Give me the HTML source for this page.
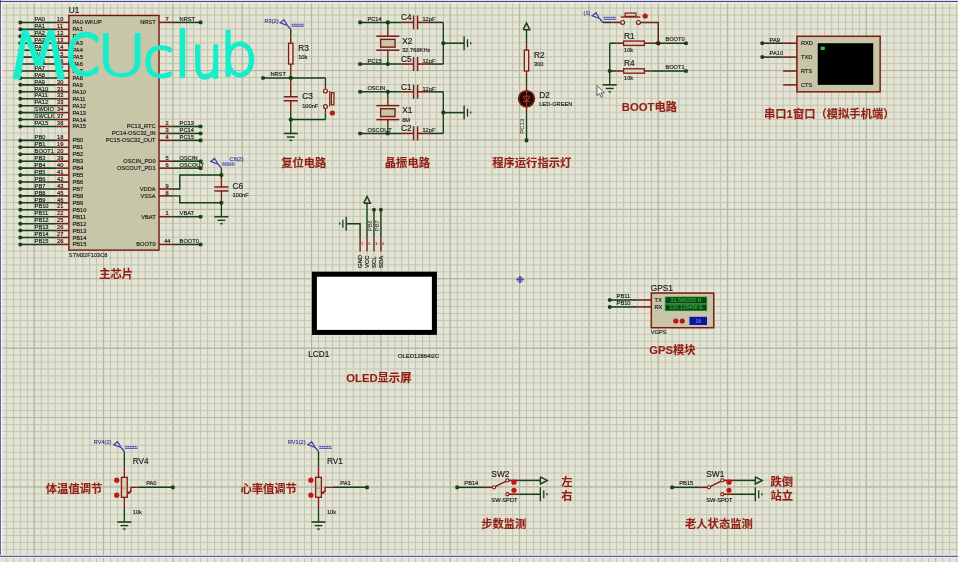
<!DOCTYPE html>
<html lang="zh"><head><meta charset="utf-8"><title>MCUclub schematic</title>
<style>html,body{margin:0;padding:0;background:#e4e4d4;overflow:hidden}body{position:relative;width:958px;height:562px}svg{display:block}.t{font-family:"Liberation Sans","Noto Sans CJK SC",sans-serif}.cn{font-family:"Liberation Sans","Noto Sans CJK SC",sans-serif;letter-spacing:0}.wm{font-family:"DejaVu Sans","Liberation Sans",sans-serif}</style></head><body>
<svg width="958" height="562" viewBox="0 0 958 562">
<defs>
<pattern id="gmin" x="34.2" y="1.2" width="6.934" height="6.939" patternUnits="userSpaceOnUse"><path d="M0.5 0V6.939M0 0.5H6.934" stroke="#c2c3b1" stroke-width="1.15" fill="none"/></pattern>
<pattern id="gmaj" x="34.2" y="1.2" width="69.34" height="69.39" patternUnits="userSpaceOnUse"><path d="M0.5 0V69.39M0 0.5H69.34" stroke="#b1b2a0" stroke-width="1.05" fill="none"/></pattern>
<filter id="soft" x="-2%" y="-2%" width="104%" height="104%"><feGaussianBlur stdDeviation="0.35"/></filter>
</defs>
<rect width="958" height="562" fill="#e4e4d4"/>
<g id="grid" transform="translate(-0.5,-0.5)"><rect x="0" y="0" width="960" height="564" fill="url(#gmin)"/><rect x="0" y="0" width="960" height="564" fill="url(#gmaj)"/></g>
<g id="all" filter="url(#soft)">
<rect x="0" y="0" width="958" height="1.1" fill="#dedeea"/>
<rect x="0" y="2" width="958" height="1.6" fill="#eeeee6" opacity="0.8"/>
<rect x="0.6" y="2" width="1.8" height="554" fill="#f4f4f6"/>
<line x1="0" y1="1.5" x2="958" y2="1.5" stroke="#45458c" stroke-width="1.1" />
<line x1="0.3" y1="0" x2="0.3" y2="556.4" stroke="#45458c" stroke-width="1.0" />
<rect x="0" y="554.8" width="958" height="3.2" fill="#e8e8f4"/>
<line x1="0" y1="556.3" x2="958" y2="556.3" stroke="#3c3c80" stroke-width="1.0" />
<g id="parts" transform="translate(0,0.4)">
<rect x="68.87" y="15.08" width="90.14" height="234.62" fill="#c8c6a8" stroke="#74180f" stroke-width="1.4"/>
<text x="68.87" y="12.6" font-size="8.3" fill="#1c1c1a" stroke="#1c1c1a" stroke-width="0.16" text-anchor="start" font-weight="normal" class="t" >U1</text>
<text x="68.87" y="256.6" font-size="5.7" fill="#1c1c1a" stroke="#1c1c1a" stroke-width="0.16" text-anchor="start" font-weight="normal" class="t" >STM32F103C8</text>
<line x1="20.33" y1="22.02" x2="55.0" y2="22.02" stroke="#153f18" stroke-width="1.55" />
<line x1="55.0" y1="22.02" x2="68.87" y2="22.02" stroke="#7e1a12" stroke-width="1.55" />
<circle cx="20.33" cy="22.02" r="2.0" fill="#153f18"/>
<text x="34.6" y="20.72" font-size="5.7" fill="#1c1c1a" stroke="#1c1c1a" stroke-width="0.16" text-anchor="start" font-weight="normal" class="t" >PA0</text>
<text x="57.0" y="20.72" font-size="5.7" fill="#1c1c1a" stroke="#1c1c1a" stroke-width="0.16" text-anchor="start" font-weight="normal" class="t" >10</text>
<text x="72.47" y="24.02" font-size="5.7" fill="#1c1c1a" stroke="#1c1c1a" stroke-width="0.16" text-anchor="start" font-weight="normal" class="t" >PA0-WKUP</text>
<line x1="20.33" y1="28.96" x2="55.0" y2="28.96" stroke="#153f18" stroke-width="1.55" />
<line x1="55.0" y1="28.96" x2="68.87" y2="28.96" stroke="#7e1a12" stroke-width="1.55" />
<circle cx="20.33" cy="28.96" r="2.0" fill="#153f18"/>
<text x="34.6" y="27.66" font-size="5.7" fill="#1c1c1a" stroke="#1c1c1a" stroke-width="0.16" text-anchor="start" font-weight="normal" class="t" >PA1</text>
<text x="57.0" y="27.66" font-size="5.7" fill="#1c1c1a" stroke="#1c1c1a" stroke-width="0.16" text-anchor="start" font-weight="normal" class="t" >11</text>
<text x="72.47" y="30.96" font-size="5.7" fill="#1c1c1a" stroke="#1c1c1a" stroke-width="0.16" text-anchor="start" font-weight="normal" class="t" >PA1</text>
<line x1="20.33" y1="35.9" x2="55.0" y2="35.9" stroke="#153f18" stroke-width="1.55" />
<line x1="55.0" y1="35.9" x2="68.87" y2="35.9" stroke="#7e1a12" stroke-width="1.55" />
<circle cx="20.33" cy="35.9" r="2.0" fill="#153f18"/>
<text x="34.6" y="34.6" font-size="5.7" fill="#1c1c1a" stroke="#1c1c1a" stroke-width="0.16" text-anchor="start" font-weight="normal" class="t" >PA2</text>
<text x="57.0" y="34.6" font-size="5.7" fill="#1c1c1a" stroke="#1c1c1a" stroke-width="0.16" text-anchor="start" font-weight="normal" class="t" >12</text>
<text x="72.47" y="37.9" font-size="5.7" fill="#1c1c1a" stroke="#1c1c1a" stroke-width="0.16" text-anchor="start" font-weight="normal" class="t" >PA2</text>
<line x1="20.33" y1="42.83" x2="55.0" y2="42.83" stroke="#153f18" stroke-width="1.55" />
<line x1="55.0" y1="42.83" x2="68.87" y2="42.83" stroke="#7e1a12" stroke-width="1.55" />
<circle cx="20.33" cy="42.83" r="2.0" fill="#153f18"/>
<text x="34.6" y="41.53" font-size="5.7" fill="#1c1c1a" stroke="#1c1c1a" stroke-width="0.16" text-anchor="start" font-weight="normal" class="t" >PA3</text>
<text x="57.0" y="41.53" font-size="5.7" fill="#1c1c1a" stroke="#1c1c1a" stroke-width="0.16" text-anchor="start" font-weight="normal" class="t" >13</text>
<text x="72.47" y="44.83" font-size="5.7" fill="#1c1c1a" stroke="#1c1c1a" stroke-width="0.16" text-anchor="start" font-weight="normal" class="t" >PA3</text>
<line x1="20.33" y1="49.77" x2="55.0" y2="49.77" stroke="#153f18" stroke-width="1.55" />
<line x1="55.0" y1="49.77" x2="68.87" y2="49.77" stroke="#7e1a12" stroke-width="1.55" />
<circle cx="20.33" cy="49.77" r="2.0" fill="#153f18"/>
<text x="34.6" y="48.47" font-size="5.7" fill="#1c1c1a" stroke="#1c1c1a" stroke-width="0.16" text-anchor="start" font-weight="normal" class="t" >PA4</text>
<text x="57.0" y="48.47" font-size="5.7" fill="#1c1c1a" stroke="#1c1c1a" stroke-width="0.16" text-anchor="start" font-weight="normal" class="t" >14</text>
<text x="72.47" y="51.77" font-size="5.7" fill="#1c1c1a" stroke="#1c1c1a" stroke-width="0.16" text-anchor="start" font-weight="normal" class="t" >PA4</text>
<line x1="20.33" y1="56.71" x2="55.0" y2="56.71" stroke="#153f18" stroke-width="1.55" />
<line x1="55.0" y1="56.71" x2="68.87" y2="56.71" stroke="#7e1a12" stroke-width="1.55" />
<circle cx="20.33" cy="56.71" r="2.0" fill="#153f18"/>
<text x="34.6" y="55.41" font-size="5.7" fill="#1c1c1a" stroke="#1c1c1a" stroke-width="0.16" text-anchor="start" font-weight="normal" class="t" >PA5</text>
<text x="57.0" y="55.41" font-size="5.7" fill="#1c1c1a" stroke="#1c1c1a" stroke-width="0.16" text-anchor="start" font-weight="normal" class="t" >15</text>
<text x="72.47" y="58.71" font-size="5.7" fill="#1c1c1a" stroke="#1c1c1a" stroke-width="0.16" text-anchor="start" font-weight="normal" class="t" >PA5</text>
<line x1="20.33" y1="63.65" x2="55.0" y2="63.65" stroke="#153f18" stroke-width="1.55" />
<line x1="55.0" y1="63.65" x2="68.87" y2="63.65" stroke="#7e1a12" stroke-width="1.55" />
<circle cx="20.33" cy="63.65" r="2.0" fill="#153f18"/>
<text x="34.6" y="62.35" font-size="5.7" fill="#1c1c1a" stroke="#1c1c1a" stroke-width="0.16" text-anchor="start" font-weight="normal" class="t" >PA6</text>
<text x="57.0" y="62.35" font-size="5.7" fill="#1c1c1a" stroke="#1c1c1a" stroke-width="0.16" text-anchor="start" font-weight="normal" class="t" >16</text>
<text x="72.47" y="65.65" font-size="5.7" fill="#1c1c1a" stroke="#1c1c1a" stroke-width="0.16" text-anchor="start" font-weight="normal" class="t" >PA6</text>
<line x1="20.33" y1="70.59" x2="55.0" y2="70.59" stroke="#153f18" stroke-width="1.55" />
<line x1="55.0" y1="70.59" x2="68.87" y2="70.59" stroke="#7e1a12" stroke-width="1.55" />
<circle cx="20.33" cy="70.59" r="2.0" fill="#153f18"/>
<text x="34.6" y="69.29" font-size="5.7" fill="#1c1c1a" stroke="#1c1c1a" stroke-width="0.16" text-anchor="start" font-weight="normal" class="t" >PA7</text>
<text x="57.0" y="69.29" font-size="5.7" fill="#1c1c1a" stroke="#1c1c1a" stroke-width="0.16" text-anchor="start" font-weight="normal" class="t" >17</text>
<text x="72.47" y="72.59" font-size="5.7" fill="#1c1c1a" stroke="#1c1c1a" stroke-width="0.16" text-anchor="start" font-weight="normal" class="t" >PA7</text>
<line x1="20.33" y1="77.53" x2="55.0" y2="77.53" stroke="#153f18" stroke-width="1.55" />
<line x1="55.0" y1="77.53" x2="68.87" y2="77.53" stroke="#7e1a12" stroke-width="1.55" />
<circle cx="20.33" cy="77.53" r="2.0" fill="#153f18"/>
<text x="34.6" y="76.23" font-size="5.7" fill="#1c1c1a" stroke="#1c1c1a" stroke-width="0.16" text-anchor="start" font-weight="normal" class="t" >PA8</text>
<text x="57.0" y="76.23" font-size="5.7" fill="#1c1c1a" stroke="#1c1c1a" stroke-width="0.16" text-anchor="start" font-weight="normal" class="t" >29</text>
<text x="72.47" y="79.53" font-size="5.7" fill="#1c1c1a" stroke="#1c1c1a" stroke-width="0.16" text-anchor="start" font-weight="normal" class="t" >PA8</text>
<line x1="20.33" y1="84.47" x2="55.0" y2="84.47" stroke="#153f18" stroke-width="1.55" />
<line x1="55.0" y1="84.47" x2="68.87" y2="84.47" stroke="#7e1a12" stroke-width="1.55" />
<circle cx="20.33" cy="84.47" r="2.0" fill="#153f18"/>
<text x="34.6" y="83.17" font-size="5.7" fill="#1c1c1a" stroke="#1c1c1a" stroke-width="0.16" text-anchor="start" font-weight="normal" class="t" >PA9</text>
<text x="57.0" y="83.17" font-size="5.7" fill="#1c1c1a" stroke="#1c1c1a" stroke-width="0.16" text-anchor="start" font-weight="normal" class="t" >30</text>
<text x="72.47" y="86.47" font-size="5.7" fill="#1c1c1a" stroke="#1c1c1a" stroke-width="0.16" text-anchor="start" font-weight="normal" class="t" >PA9</text>
<line x1="20.33" y1="91.41" x2="55.0" y2="91.41" stroke="#153f18" stroke-width="1.55" />
<line x1="55.0" y1="91.41" x2="68.87" y2="91.41" stroke="#7e1a12" stroke-width="1.55" />
<circle cx="20.33" cy="91.41" r="2.0" fill="#153f18"/>
<text x="34.6" y="90.11" font-size="5.7" fill="#1c1c1a" stroke="#1c1c1a" stroke-width="0.16" text-anchor="start" font-weight="normal" class="t" >PA10</text>
<text x="57.0" y="90.11" font-size="5.7" fill="#1c1c1a" stroke="#1c1c1a" stroke-width="0.16" text-anchor="start" font-weight="normal" class="t" >31</text>
<text x="72.47" y="93.41" font-size="5.7" fill="#1c1c1a" stroke="#1c1c1a" stroke-width="0.16" text-anchor="start" font-weight="normal" class="t" >PA10</text>
<line x1="20.33" y1="98.35" x2="55.0" y2="98.35" stroke="#153f18" stroke-width="1.55" />
<line x1="55.0" y1="98.35" x2="68.87" y2="98.35" stroke="#7e1a12" stroke-width="1.55" />
<circle cx="20.33" cy="98.35" r="2.0" fill="#153f18"/>
<text x="34.6" y="97.05" font-size="5.7" fill="#1c1c1a" stroke="#1c1c1a" stroke-width="0.16" text-anchor="start" font-weight="normal" class="t" >PA11</text>
<text x="57.0" y="97.05" font-size="5.7" fill="#1c1c1a" stroke="#1c1c1a" stroke-width="0.16" text-anchor="start" font-weight="normal" class="t" >32</text>
<text x="72.47" y="100.35" font-size="5.7" fill="#1c1c1a" stroke="#1c1c1a" stroke-width="0.16" text-anchor="start" font-weight="normal" class="t" >PA11</text>
<line x1="20.33" y1="105.29" x2="55.0" y2="105.29" stroke="#153f18" stroke-width="1.55" />
<line x1="55.0" y1="105.29" x2="68.87" y2="105.29" stroke="#7e1a12" stroke-width="1.55" />
<circle cx="20.33" cy="105.29" r="2.0" fill="#153f18"/>
<text x="34.6" y="103.99" font-size="5.7" fill="#1c1c1a" stroke="#1c1c1a" stroke-width="0.16" text-anchor="start" font-weight="normal" class="t" >PA12</text>
<text x="57.0" y="103.99" font-size="5.7" fill="#1c1c1a" stroke="#1c1c1a" stroke-width="0.16" text-anchor="start" font-weight="normal" class="t" >33</text>
<text x="72.47" y="107.29" font-size="5.7" fill="#1c1c1a" stroke="#1c1c1a" stroke-width="0.16" text-anchor="start" font-weight="normal" class="t" >PA12</text>
<line x1="20.33" y1="112.22" x2="55.0" y2="112.22" stroke="#153f18" stroke-width="1.55" />
<line x1="55.0" y1="112.22" x2="68.87" y2="112.22" stroke="#7e1a12" stroke-width="1.55" />
<circle cx="20.33" cy="112.22" r="2.0" fill="#153f18"/>
<text x="34.6" y="110.92" font-size="5.7" fill="#1c1c1a" stroke="#1c1c1a" stroke-width="0.16" text-anchor="start" font-weight="normal" class="t" >SWDIO</text>
<text x="57.0" y="110.92" font-size="5.7" fill="#1c1c1a" stroke="#1c1c1a" stroke-width="0.16" text-anchor="start" font-weight="normal" class="t" >34</text>
<text x="72.47" y="114.22" font-size="5.7" fill="#1c1c1a" stroke="#1c1c1a" stroke-width="0.16" text-anchor="start" font-weight="normal" class="t" >PA13</text>
<line x1="20.33" y1="119.16" x2="55.0" y2="119.16" stroke="#153f18" stroke-width="1.55" />
<line x1="55.0" y1="119.16" x2="68.87" y2="119.16" stroke="#7e1a12" stroke-width="1.55" />
<circle cx="20.33" cy="119.16" r="2.0" fill="#153f18"/>
<text x="34.6" y="117.86" font-size="5.7" fill="#1c1c1a" stroke="#1c1c1a" stroke-width="0.16" text-anchor="start" font-weight="normal" class="t" >SWCLK</text>
<text x="57.0" y="117.86" font-size="5.7" fill="#1c1c1a" stroke="#1c1c1a" stroke-width="0.16" text-anchor="start" font-weight="normal" class="t" >37</text>
<text x="72.47" y="121.16" font-size="5.7" fill="#1c1c1a" stroke="#1c1c1a" stroke-width="0.16" text-anchor="start" font-weight="normal" class="t" >PA14</text>
<line x1="20.33" y1="126.1" x2="55.0" y2="126.1" stroke="#153f18" stroke-width="1.55" />
<line x1="55.0" y1="126.1" x2="68.87" y2="126.1" stroke="#7e1a12" stroke-width="1.55" />
<circle cx="20.33" cy="126.1" r="2.0" fill="#153f18"/>
<text x="34.6" y="124.8" font-size="5.7" fill="#1c1c1a" stroke="#1c1c1a" stroke-width="0.16" text-anchor="start" font-weight="normal" class="t" >PA15</text>
<text x="57.0" y="124.8" font-size="5.7" fill="#1c1c1a" stroke="#1c1c1a" stroke-width="0.16" text-anchor="start" font-weight="normal" class="t" >38</text>
<text x="72.47" y="128.1" font-size="5.7" fill="#1c1c1a" stroke="#1c1c1a" stroke-width="0.16" text-anchor="start" font-weight="normal" class="t" >PA15</text>
<line x1="20.33" y1="139.98" x2="55.0" y2="139.98" stroke="#153f18" stroke-width="1.55" />
<line x1="55.0" y1="139.98" x2="68.87" y2="139.98" stroke="#7e1a12" stroke-width="1.55" />
<circle cx="20.33" cy="139.98" r="2.0" fill="#153f18"/>
<text x="34.6" y="138.68" font-size="5.7" fill="#1c1c1a" stroke="#1c1c1a" stroke-width="0.16" text-anchor="start" font-weight="normal" class="t" >PB0</text>
<text x="57.0" y="138.68" font-size="5.7" fill="#1c1c1a" stroke="#1c1c1a" stroke-width="0.16" text-anchor="start" font-weight="normal" class="t" >18</text>
<text x="72.47" y="141.98" font-size="5.7" fill="#1c1c1a" stroke="#1c1c1a" stroke-width="0.16" text-anchor="start" font-weight="normal" class="t" >PB0</text>
<line x1="20.33" y1="146.92" x2="55.0" y2="146.92" stroke="#153f18" stroke-width="1.55" />
<line x1="55.0" y1="146.92" x2="68.87" y2="146.92" stroke="#7e1a12" stroke-width="1.55" />
<circle cx="20.33" cy="146.92" r="2.0" fill="#153f18"/>
<text x="34.6" y="145.62" font-size="5.7" fill="#1c1c1a" stroke="#1c1c1a" stroke-width="0.16" text-anchor="start" font-weight="normal" class="t" >PB1</text>
<text x="57.0" y="145.62" font-size="5.7" fill="#1c1c1a" stroke="#1c1c1a" stroke-width="0.16" text-anchor="start" font-weight="normal" class="t" >19</text>
<text x="72.47" y="148.92" font-size="5.7" fill="#1c1c1a" stroke="#1c1c1a" stroke-width="0.16" text-anchor="start" font-weight="normal" class="t" >PB1</text>
<line x1="20.33" y1="153.86" x2="55.0" y2="153.86" stroke="#153f18" stroke-width="1.55" />
<line x1="55.0" y1="153.86" x2="68.87" y2="153.86" stroke="#7e1a12" stroke-width="1.55" />
<circle cx="20.33" cy="153.86" r="2.0" fill="#153f18"/>
<text x="34.6" y="152.56" font-size="5.7" fill="#1c1c1a" stroke="#1c1c1a" stroke-width="0.16" text-anchor="start" font-weight="normal" class="t" >BOOT1</text>
<text x="57.0" y="152.56" font-size="5.7" fill="#1c1c1a" stroke="#1c1c1a" stroke-width="0.16" text-anchor="start" font-weight="normal" class="t" >20</text>
<text x="72.47" y="155.86" font-size="5.7" fill="#1c1c1a" stroke="#1c1c1a" stroke-width="0.16" text-anchor="start" font-weight="normal" class="t" >PB2</text>
<line x1="20.33" y1="160.8" x2="55.0" y2="160.8" stroke="#153f18" stroke-width="1.55" />
<line x1="55.0" y1="160.8" x2="68.87" y2="160.8" stroke="#7e1a12" stroke-width="1.55" />
<circle cx="20.33" cy="160.8" r="2.0" fill="#153f18"/>
<text x="34.6" y="159.5" font-size="5.7" fill="#1c1c1a" stroke="#1c1c1a" stroke-width="0.16" text-anchor="start" font-weight="normal" class="t" >PB3</text>
<text x="57.0" y="159.5" font-size="5.7" fill="#1c1c1a" stroke="#1c1c1a" stroke-width="0.16" text-anchor="start" font-weight="normal" class="t" >39</text>
<text x="72.47" y="162.8" font-size="5.7" fill="#1c1c1a" stroke="#1c1c1a" stroke-width="0.16" text-anchor="start" font-weight="normal" class="t" >PB3</text>
<line x1="20.33" y1="167.74" x2="55.0" y2="167.74" stroke="#153f18" stroke-width="1.55" />
<line x1="55.0" y1="167.74" x2="68.87" y2="167.74" stroke="#7e1a12" stroke-width="1.55" />
<circle cx="20.33" cy="167.74" r="2.0" fill="#153f18"/>
<text x="34.6" y="166.44" font-size="5.7" fill="#1c1c1a" stroke="#1c1c1a" stroke-width="0.16" text-anchor="start" font-weight="normal" class="t" >PB4</text>
<text x="57.0" y="166.44" font-size="5.7" fill="#1c1c1a" stroke="#1c1c1a" stroke-width="0.16" text-anchor="start" font-weight="normal" class="t" >40</text>
<text x="72.47" y="169.74" font-size="5.7" fill="#1c1c1a" stroke="#1c1c1a" stroke-width="0.16" text-anchor="start" font-weight="normal" class="t" >PB4</text>
<line x1="20.33" y1="174.67" x2="55.0" y2="174.67" stroke="#153f18" stroke-width="1.55" />
<line x1="55.0" y1="174.67" x2="68.87" y2="174.67" stroke="#7e1a12" stroke-width="1.55" />
<circle cx="20.33" cy="174.67" r="2.0" fill="#153f18"/>
<text x="34.6" y="173.37" font-size="5.7" fill="#1c1c1a" stroke="#1c1c1a" stroke-width="0.16" text-anchor="start" font-weight="normal" class="t" >PB5</text>
<text x="57.0" y="173.37" font-size="5.7" fill="#1c1c1a" stroke="#1c1c1a" stroke-width="0.16" text-anchor="start" font-weight="normal" class="t" >41</text>
<text x="72.47" y="176.67" font-size="5.7" fill="#1c1c1a" stroke="#1c1c1a" stroke-width="0.16" text-anchor="start" font-weight="normal" class="t" >PB5</text>
<line x1="20.33" y1="181.61" x2="55.0" y2="181.61" stroke="#153f18" stroke-width="1.55" />
<line x1="55.0" y1="181.61" x2="68.87" y2="181.61" stroke="#7e1a12" stroke-width="1.55" />
<circle cx="20.33" cy="181.61" r="2.0" fill="#153f18"/>
<text x="34.6" y="180.31" font-size="5.7" fill="#1c1c1a" stroke="#1c1c1a" stroke-width="0.16" text-anchor="start" font-weight="normal" class="t" >PB6</text>
<text x="57.0" y="180.31" font-size="5.7" fill="#1c1c1a" stroke="#1c1c1a" stroke-width="0.16" text-anchor="start" font-weight="normal" class="t" >42</text>
<text x="72.47" y="183.61" font-size="5.7" fill="#1c1c1a" stroke="#1c1c1a" stroke-width="0.16" text-anchor="start" font-weight="normal" class="t" >PB6</text>
<line x1="20.33" y1="188.55" x2="55.0" y2="188.55" stroke="#153f18" stroke-width="1.55" />
<line x1="55.0" y1="188.55" x2="68.87" y2="188.55" stroke="#7e1a12" stroke-width="1.55" />
<circle cx="20.33" cy="188.55" r="2.0" fill="#153f18"/>
<text x="34.6" y="187.25" font-size="5.7" fill="#1c1c1a" stroke="#1c1c1a" stroke-width="0.16" text-anchor="start" font-weight="normal" class="t" >PB7</text>
<text x="57.0" y="187.25" font-size="5.7" fill="#1c1c1a" stroke="#1c1c1a" stroke-width="0.16" text-anchor="start" font-weight="normal" class="t" >43</text>
<text x="72.47" y="190.55" font-size="5.7" fill="#1c1c1a" stroke="#1c1c1a" stroke-width="0.16" text-anchor="start" font-weight="normal" class="t" >PB7</text>
<line x1="20.33" y1="195.49" x2="55.0" y2="195.49" stroke="#153f18" stroke-width="1.55" />
<line x1="55.0" y1="195.49" x2="68.87" y2="195.49" stroke="#7e1a12" stroke-width="1.55" />
<circle cx="20.33" cy="195.49" r="2.0" fill="#153f18"/>
<text x="34.6" y="194.19" font-size="5.7" fill="#1c1c1a" stroke="#1c1c1a" stroke-width="0.16" text-anchor="start" font-weight="normal" class="t" >PB8</text>
<text x="57.0" y="194.19" font-size="5.7" fill="#1c1c1a" stroke="#1c1c1a" stroke-width="0.16" text-anchor="start" font-weight="normal" class="t" >45</text>
<text x="72.47" y="197.49" font-size="5.7" fill="#1c1c1a" stroke="#1c1c1a" stroke-width="0.16" text-anchor="start" font-weight="normal" class="t" >PB8</text>
<line x1="20.33" y1="202.43" x2="55.0" y2="202.43" stroke="#153f18" stroke-width="1.55" />
<line x1="55.0" y1="202.43" x2="68.87" y2="202.43" stroke="#7e1a12" stroke-width="1.55" />
<circle cx="20.33" cy="202.43" r="2.0" fill="#153f18"/>
<text x="34.6" y="201.13" font-size="5.7" fill="#1c1c1a" stroke="#1c1c1a" stroke-width="0.16" text-anchor="start" font-weight="normal" class="t" >PB9</text>
<text x="57.0" y="201.13" font-size="5.7" fill="#1c1c1a" stroke="#1c1c1a" stroke-width="0.16" text-anchor="start" font-weight="normal" class="t" >46</text>
<text x="72.47" y="204.43" font-size="5.7" fill="#1c1c1a" stroke="#1c1c1a" stroke-width="0.16" text-anchor="start" font-weight="normal" class="t" >PB9</text>
<line x1="20.33" y1="209.37" x2="55.0" y2="209.37" stroke="#153f18" stroke-width="1.55" />
<line x1="55.0" y1="209.37" x2="68.87" y2="209.37" stroke="#7e1a12" stroke-width="1.55" />
<circle cx="20.33" cy="209.37" r="2.0" fill="#153f18"/>
<text x="34.6" y="208.07" font-size="5.7" fill="#1c1c1a" stroke="#1c1c1a" stroke-width="0.16" text-anchor="start" font-weight="normal" class="t" >PB10</text>
<text x="57.0" y="208.07" font-size="5.7" fill="#1c1c1a" stroke="#1c1c1a" stroke-width="0.16" text-anchor="start" font-weight="normal" class="t" >21</text>
<text x="72.47" y="211.37" font-size="5.7" fill="#1c1c1a" stroke="#1c1c1a" stroke-width="0.16" text-anchor="start" font-weight="normal" class="t" >PB10</text>
<line x1="20.33" y1="216.31" x2="55.0" y2="216.31" stroke="#153f18" stroke-width="1.55" />
<line x1="55.0" y1="216.31" x2="68.87" y2="216.31" stroke="#7e1a12" stroke-width="1.55" />
<circle cx="20.33" cy="216.31" r="2.0" fill="#153f18"/>
<text x="34.6" y="215.01" font-size="5.7" fill="#1c1c1a" stroke="#1c1c1a" stroke-width="0.16" text-anchor="start" font-weight="normal" class="t" >PB11</text>
<text x="57.0" y="215.01" font-size="5.7" fill="#1c1c1a" stroke="#1c1c1a" stroke-width="0.16" text-anchor="start" font-weight="normal" class="t" >22</text>
<text x="72.47" y="218.31" font-size="5.7" fill="#1c1c1a" stroke="#1c1c1a" stroke-width="0.16" text-anchor="start" font-weight="normal" class="t" >PB11</text>
<line x1="20.33" y1="223.25" x2="55.0" y2="223.25" stroke="#153f18" stroke-width="1.55" />
<line x1="55.0" y1="223.25" x2="68.87" y2="223.25" stroke="#7e1a12" stroke-width="1.55" />
<circle cx="20.33" cy="223.25" r="2.0" fill="#153f18"/>
<text x="34.6" y="221.95" font-size="5.7" fill="#1c1c1a" stroke="#1c1c1a" stroke-width="0.16" text-anchor="start" font-weight="normal" class="t" >PB12</text>
<text x="57.0" y="221.95" font-size="5.7" fill="#1c1c1a" stroke="#1c1c1a" stroke-width="0.16" text-anchor="start" font-weight="normal" class="t" >25</text>
<text x="72.47" y="225.25" font-size="5.7" fill="#1c1c1a" stroke="#1c1c1a" stroke-width="0.16" text-anchor="start" font-weight="normal" class="t" >PB12</text>
<line x1="20.33" y1="230.19" x2="55.0" y2="230.19" stroke="#153f18" stroke-width="1.55" />
<line x1="55.0" y1="230.19" x2="68.87" y2="230.19" stroke="#7e1a12" stroke-width="1.55" />
<circle cx="20.33" cy="230.19" r="2.0" fill="#153f18"/>
<text x="34.6" y="228.89" font-size="5.7" fill="#1c1c1a" stroke="#1c1c1a" stroke-width="0.16" text-anchor="start" font-weight="normal" class="t" >PB13</text>
<text x="57.0" y="228.89" font-size="5.7" fill="#1c1c1a" stroke="#1c1c1a" stroke-width="0.16" text-anchor="start" font-weight="normal" class="t" >26</text>
<text x="72.47" y="232.19" font-size="5.7" fill="#1c1c1a" stroke="#1c1c1a" stroke-width="0.16" text-anchor="start" font-weight="normal" class="t" >PB13</text>
<line x1="20.33" y1="237.13" x2="55.0" y2="237.13" stroke="#153f18" stroke-width="1.55" />
<line x1="55.0" y1="237.13" x2="68.87" y2="237.13" stroke="#7e1a12" stroke-width="1.55" />
<circle cx="20.33" cy="237.13" r="2.0" fill="#153f18"/>
<text x="34.6" y="235.83" font-size="5.7" fill="#1c1c1a" stroke="#1c1c1a" stroke-width="0.16" text-anchor="start" font-weight="normal" class="t" >PB14</text>
<text x="57.0" y="235.83" font-size="5.7" fill="#1c1c1a" stroke="#1c1c1a" stroke-width="0.16" text-anchor="start" font-weight="normal" class="t" >27</text>
<text x="72.47" y="239.13" font-size="5.7" fill="#1c1c1a" stroke="#1c1c1a" stroke-width="0.16" text-anchor="start" font-weight="normal" class="t" >PB14</text>
<line x1="20.33" y1="244.06" x2="55.0" y2="244.06" stroke="#153f18" stroke-width="1.55" />
<line x1="55.0" y1="244.06" x2="68.87" y2="244.06" stroke="#7e1a12" stroke-width="1.55" />
<circle cx="20.33" cy="244.06" r="2.0" fill="#153f18"/>
<text x="34.6" y="242.76" font-size="5.7" fill="#1c1c1a" stroke="#1c1c1a" stroke-width="0.16" text-anchor="start" font-weight="normal" class="t" >PB15</text>
<text x="57.0" y="242.76" font-size="5.7" fill="#1c1c1a" stroke="#1c1c1a" stroke-width="0.16" text-anchor="start" font-weight="normal" class="t" >28</text>
<text x="72.47" y="246.06" font-size="5.7" fill="#1c1c1a" stroke="#1c1c1a" stroke-width="0.16" text-anchor="start" font-weight="normal" class="t" >PB15</text>
<line x1="159.01" y1="22.02" x2="172.88" y2="22.02" stroke="#7e1a12" stroke-width="1.55" />
<text x="155.61" y="24.02" font-size="5.7" fill="#1c1c1a" stroke="#1c1c1a" stroke-width="0.16" text-anchor="end" font-weight="normal" class="t" >NRST</text>
<text x="165.6" y="20.72" font-size="5.7" fill="#1c1c1a" stroke="#1c1c1a" stroke-width="0.16" text-anchor="start" font-weight="normal" class="t" >7</text>
<line x1="172.88" y1="22.02" x2="200.62" y2="22.02" stroke="#153f18" stroke-width="1.55" />
<rect x="198.82" y="20.22" width="3.6" height="3.6" rx="0.9" fill="#153f18"/>
<text x="179.6" y="20.72" font-size="5.7" fill="#1c1c1a" stroke="#1c1c1a" stroke-width="0.16" text-anchor="start" font-weight="normal" class="t" >NRST</text>
<line x1="159.01" y1="126.1" x2="172.88" y2="126.1" stroke="#7e1a12" stroke-width="1.55" />
<text x="155.61" y="128.1" font-size="5.7" fill="#1c1c1a" stroke="#1c1c1a" stroke-width="0.16" text-anchor="end" font-weight="normal" class="t" >PC13_RTC</text>
<text x="165.6" y="124.8" font-size="5.7" fill="#1c1c1a" stroke="#1c1c1a" stroke-width="0.16" text-anchor="start" font-weight="normal" class="t" >2</text>
<line x1="172.88" y1="126.1" x2="200.62" y2="126.1" stroke="#153f18" stroke-width="1.55" />
<rect x="198.82" y="124.3" width="3.6" height="3.6" rx="0.9" fill="#153f18"/>
<text x="179.6" y="124.8" font-size="5.7" fill="#1c1c1a" stroke="#1c1c1a" stroke-width="0.16" text-anchor="start" font-weight="normal" class="t" >PC13</text>
<line x1="159.01" y1="133.04" x2="172.88" y2="133.04" stroke="#7e1a12" stroke-width="1.55" />
<text x="155.61" y="135.04" font-size="5.7" fill="#1c1c1a" stroke="#1c1c1a" stroke-width="0.16" text-anchor="end" font-weight="normal" class="t" >PC14-OSC32_IN</text>
<text x="165.6" y="131.74" font-size="5.7" fill="#1c1c1a" stroke="#1c1c1a" stroke-width="0.16" text-anchor="start" font-weight="normal" class="t" >3</text>
<line x1="172.88" y1="133.04" x2="200.62" y2="133.04" stroke="#153f18" stroke-width="1.55" />
<rect x="198.82" y="131.24" width="3.6" height="3.6" rx="0.9" fill="#153f18"/>
<text x="179.6" y="131.74" font-size="5.7" fill="#1c1c1a" stroke="#1c1c1a" stroke-width="0.16" text-anchor="start" font-weight="normal" class="t" >PC14</text>
<line x1="159.01" y1="139.98" x2="172.88" y2="139.98" stroke="#7e1a12" stroke-width="1.55" />
<text x="155.61" y="141.98" font-size="5.7" fill="#1c1c1a" stroke="#1c1c1a" stroke-width="0.16" text-anchor="end" font-weight="normal" class="t" >PC15-OSC32_OUT</text>
<text x="165.6" y="138.68" font-size="5.7" fill="#1c1c1a" stroke="#1c1c1a" stroke-width="0.16" text-anchor="start" font-weight="normal" class="t" >4</text>
<line x1="172.88" y1="139.98" x2="200.62" y2="139.98" stroke="#153f18" stroke-width="1.55" />
<rect x="198.82" y="138.18" width="3.6" height="3.6" rx="0.9" fill="#153f18"/>
<text x="179.6" y="138.68" font-size="5.7" fill="#1c1c1a" stroke="#1c1c1a" stroke-width="0.16" text-anchor="start" font-weight="normal" class="t" >PC15</text>
<line x1="159.01" y1="160.8" x2="172.88" y2="160.8" stroke="#7e1a12" stroke-width="1.55" />
<text x="155.61" y="162.8" font-size="5.7" fill="#1c1c1a" stroke="#1c1c1a" stroke-width="0.16" text-anchor="end" font-weight="normal" class="t" >OSCIN_PD0</text>
<text x="165.6" y="159.5" font-size="5.7" fill="#1c1c1a" stroke="#1c1c1a" stroke-width="0.16" text-anchor="start" font-weight="normal" class="t" >5</text>
<line x1="172.88" y1="160.8" x2="200.62" y2="160.8" stroke="#153f18" stroke-width="1.55" />
<rect x="198.82" y="159.0" width="3.6" height="3.6" rx="0.9" fill="#153f18"/>
<text x="179.6" y="159.5" font-size="5.7" fill="#1c1c1a" stroke="#1c1c1a" stroke-width="0.16" text-anchor="start" font-weight="normal" class="t" >OSCIN</text>
<line x1="159.01" y1="167.74" x2="172.88" y2="167.74" stroke="#7e1a12" stroke-width="1.55" />
<text x="155.61" y="169.74" font-size="5.7" fill="#1c1c1a" stroke="#1c1c1a" stroke-width="0.16" text-anchor="end" font-weight="normal" class="t" >OSCOUT_PD1</text>
<text x="165.6" y="166.44" font-size="5.7" fill="#1c1c1a" stroke="#1c1c1a" stroke-width="0.16" text-anchor="start" font-weight="normal" class="t" >6</text>
<line x1="172.88" y1="167.74" x2="200.62" y2="167.74" stroke="#153f18" stroke-width="1.55" />
<rect x="198.82" y="165.94" width="3.6" height="3.6" rx="0.9" fill="#153f18"/>
<text x="179.6" y="166.44" font-size="5.7" fill="#1c1c1a" stroke="#1c1c1a" stroke-width="0.16" text-anchor="start" font-weight="normal" class="t" >OSCOUT</text>
<line x1="159.01" y1="188.55" x2="172.88" y2="188.55" stroke="#7e1a12" stroke-width="1.55" />
<text x="155.61" y="190.55" font-size="5.7" fill="#1c1c1a" stroke="#1c1c1a" stroke-width="0.16" text-anchor="end" font-weight="normal" class="t" >VDDA</text>
<text x="165.6" y="187.25" font-size="5.7" fill="#1c1c1a" stroke="#1c1c1a" stroke-width="0.16" text-anchor="start" font-weight="normal" class="t" >9</text>
<line x1="159.01" y1="195.49" x2="172.88" y2="195.49" stroke="#7e1a12" stroke-width="1.55" />
<text x="155.61" y="197.49" font-size="5.7" fill="#1c1c1a" stroke="#1c1c1a" stroke-width="0.16" text-anchor="end" font-weight="normal" class="t" >VSSA</text>
<text x="165.6" y="194.19" font-size="5.7" fill="#1c1c1a" stroke="#1c1c1a" stroke-width="0.16" text-anchor="start" font-weight="normal" class="t" >8</text>
<line x1="159.01" y1="216.31" x2="172.88" y2="216.31" stroke="#7e1a12" stroke-width="1.55" />
<text x="155.61" y="218.31" font-size="5.7" fill="#1c1c1a" stroke="#1c1c1a" stroke-width="0.16" text-anchor="end" font-weight="normal" class="t" >VBAT</text>
<text x="165.6" y="215.01" font-size="5.7" fill="#1c1c1a" stroke="#1c1c1a" stroke-width="0.16" text-anchor="start" font-weight="normal" class="t" >1</text>
<line x1="172.88" y1="216.31" x2="200.62" y2="216.31" stroke="#153f18" stroke-width="1.55" />
<rect x="198.82" y="214.51" width="3.6" height="3.6" rx="0.9" fill="#153f18"/>
<text x="179.6" y="215.01" font-size="5.7" fill="#1c1c1a" stroke="#1c1c1a" stroke-width="0.16" text-anchor="start" font-weight="normal" class="t" >VBAT</text>
<line x1="159.01" y1="244.06" x2="172.88" y2="244.06" stroke="#7e1a12" stroke-width="1.55" />
<text x="155.61" y="246.06" font-size="5.7" fill="#1c1c1a" stroke="#1c1c1a" stroke-width="0.16" text-anchor="end" font-weight="normal" class="t" >BOOT0</text>
<text x="164.2" y="242.76" font-size="5.7" fill="#1c1c1a" stroke="#1c1c1a" stroke-width="0.16" text-anchor="start" font-weight="normal" class="t" >44</text>
<line x1="172.88" y1="244.06" x2="200.62" y2="244.06" stroke="#153f18" stroke-width="1.55" />
<rect x="198.82" y="242.26" width="3.6" height="3.6" rx="0.9" fill="#153f18"/>
<text x="179.6" y="242.76" font-size="5.7" fill="#1c1c1a" stroke="#1c1c1a" stroke-width="0.16" text-anchor="start" font-weight="normal" class="t" >BOOT0</text>
<polyline points="172.88,188.55 179.81,188.55 179.81,174.67 221.42,174.67" fill="none" stroke="#153f18" stroke-width="1.45" stroke-linejoin="miter"/>
<polyline points="172.88,195.49 179.81,195.49 179.81,202.43 221.42,202.43" fill="none" stroke="#153f18" stroke-width="1.45" stroke-linejoin="miter"/>
<line x1="221.42" y1="167.74" x2="221.42" y2="174.67" stroke="#153f18" stroke-width="1.35" />
<line x1="221.42" y1="202.43" x2="221.42" y2="216.31" stroke="#153f18" stroke-width="1.35" />
<line x1="221.42" y1="174.67000000000002" x2="221.42" y2="186.55" stroke="#7e1a12" stroke-width="1.35" />
<line x1="221.42" y1="190.55" x2="221.42" y2="202.43" stroke="#7e1a12" stroke-width="1.35" />
<line x1="214.42" y1="186.55" x2="228.42" y2="186.55" stroke="#7e1a12" stroke-width="1.5" />
<line x1="214.42" y1="190.55" x2="228.42" y2="190.55" stroke="#7e1a12" stroke-width="1.5" />
<circle cx="221.42" cy="174.67" r="2.1" fill="#153f18"/>
<circle cx="221.42" cy="202.43" r="2.1" fill="#153f18"/>
<line x1="214.42" y1="216.31" x2="228.42" y2="216.31" stroke="#153f18" stroke-width="1.55" />
<line x1="217.51999999999998" y1="219.91" x2="225.32" y2="219.91" stroke="#153f18" stroke-width="1.4" />
<line x1="220.11999999999998" y1="223.31" x2="222.72" y2="223.31" stroke="#153f18" stroke-width="1.3" />
<polyline points="221.42,167.74 218.11999999999998,163.84" fill="none" stroke="#3a3aa6" stroke-width="1.3" stroke-linejoin="miter"/>
<polyline points="218.11999999999998,163.84 210.82,161.14000000000001 214.61999999999998,158.04000000000002 218.11999999999998,163.84" fill="none" stroke="#3a3aa6" stroke-width="1.2" stroke-linejoin="miter"/>
<rect x="222.22" y="161.44" width="12.4" height="3.0" fill="#c9cbe0" stroke="none"/>
<line x1="222.22" y1="162.74" x2="234.61999999999998" y2="162.74" stroke="#3a3aa6" stroke-width="1.0" stroke-dasharray="1.6 0.8"/>
<line x1="222.22" y1="164.64000000000001" x2="234.61999999999998" y2="164.64000000000001" stroke="#3a3aa6" stroke-width="0.9" />
<text x="229.62" y="160.14" font-size="5.6" fill="#3a3aa6" stroke="#3a3aa6" stroke-width="0.16" text-anchor="start" font-weight="normal" class="t" >C6(2)</text>
<text x="232.6" y="188.8" font-size="8.3" fill="#1c1c1a" stroke="#1c1c1a" stroke-width="0.16" text-anchor="start" font-weight="normal" class="t" >C6</text>
<text x="232.6" y="196.9" font-size="5.7" fill="#1c1c1a" stroke="#1c1c1a" stroke-width="0.16" text-anchor="start" font-weight="normal" class="t" >100nF</text>
<text x="99.2" y="277.6" font-size="11.3" fill="#931f14" stroke="#931f14" stroke-width="0.1" text-anchor="start" font-weight="bold" class="cn" >主芯片</text>
<polyline points="290.76,28.96 287.46,25.060000000000002" fill="none" stroke="#3a3aa6" stroke-width="1.3" stroke-linejoin="miter"/>
<polyline points="287.46,25.060000000000002 280.15999999999997,22.36 283.96,19.26 287.46,25.060000000000002" fill="none" stroke="#3a3aa6" stroke-width="1.2" stroke-linejoin="miter"/>
<rect x="291.56" y="22.66" width="12.4" height="3.0" fill="#c9cbe0" stroke="none"/>
<line x1="291.56" y1="23.96" x2="303.96" y2="23.96" stroke="#3a3aa6" stroke-width="1.0" stroke-dasharray="1.6 0.8"/>
<line x1="291.56" y1="25.86" x2="303.96" y2="25.86" stroke="#3a3aa6" stroke-width="0.9" />
<text x="264.56" y="22.36" font-size="5.6" fill="#3a3aa6" stroke="#3a3aa6" stroke-width="0.16" text-anchor="start" font-weight="normal" class="t" >R3(2)</text>
<line x1="290.76" y1="28.96" x2="290.76" y2="35.9" stroke="#153f18" stroke-width="1.35" />
<line x1="290.76" y1="35.9" x2="290.76" y2="70.59" stroke="#7e1a12" stroke-width="1.35" />
<rect x="288.56" y="42.84" width="4.4" height="20.81" fill="#e4ddc8" stroke="#7e1a12" stroke-width="1.3"/>
<line x1="290.76" y1="70.59" x2="290.76" y2="84.47" stroke="#7e1a12" stroke-width="1.35" />
<text x="298.2" y="50.2" font-size="8.3" fill="#1c1c1a" stroke="#1c1c1a" stroke-width="0.16" text-anchor="start" font-weight="normal" class="t" >R3</text>
<text x="298.2" y="59.0" font-size="5.7" fill="#1c1c1a" stroke="#1c1c1a" stroke-width="0.16" text-anchor="start" font-weight="normal" class="t" >10k</text>
<line x1="263.02" y1="77.53" x2="325.43" y2="77.53" stroke="#153f18" stroke-width="1.55" />
<rect x="261.22" y="75.73" width="3.6" height="3.6" rx="0.9" fill="#153f18"/>
<circle cx="290.76" cy="77.53" r="2.1" fill="#153f18"/>
<text x="270.4" y="76.0" font-size="5.7" fill="#1c1c1a" stroke="#1c1c1a" stroke-width="0.16" text-anchor="start" font-weight="normal" class="t" >NRST</text>
<line x1="290.76" y1="84.47" x2="290.76" y2="96.35" stroke="#7e1a12" stroke-width="1.35" />
<line x1="290.76" y1="100.35" x2="290.76" y2="112.22999999999999" stroke="#7e1a12" stroke-width="1.35" />
<line x1="283.76" y1="96.35" x2="297.76" y2="96.35" stroke="#7e1a12" stroke-width="1.5" />
<line x1="283.76" y1="100.35" x2="297.76" y2="100.35" stroke="#7e1a12" stroke-width="1.5" />
<line x1="290.76" y1="112.22" x2="290.76" y2="133.04" stroke="#153f18" stroke-width="1.35" />
<circle cx="290.76" cy="119.16" r="2.1" fill="#153f18"/>
<text x="302.2" y="99.0" font-size="8.3" fill="#1c1c1a" stroke="#1c1c1a" stroke-width="0.16" text-anchor="start" font-weight="normal" class="t" >C3</text>
<text x="302.2" y="107.8" font-size="5.7" fill="#1c1c1a" stroke="#1c1c1a" stroke-width="0.16" text-anchor="start" font-weight="normal" class="t" >100nF</text>
<line x1="290.76" y1="119.16" x2="325.43" y2="119.16" stroke="#153f18" stroke-width="1.55" />
<line x1="283.76" y1="133.04" x2="297.76" y2="133.04" stroke="#153f18" stroke-width="1.55" />
<line x1="286.86" y1="136.64" x2="294.65999999999997" y2="136.64" stroke="#153f18" stroke-width="1.4" />
<line x1="289.46" y1="140.04" x2="292.06" y2="140.04" stroke="#153f18" stroke-width="1.3" />
<line x1="325.43" y1="77.53" x2="325.43" y2="84.47" stroke="#153f18" stroke-width="1.35" />
<line x1="325.43" y1="84.47" x2="325.43" y2="88.81" stroke="#7e1a12" stroke-width="1.35" />
<line x1="325.43" y1="107.89" x2="325.43" y2="112.22" stroke="#7e1a12" stroke-width="1.35" />
<line x1="325.43" y1="112.22" x2="325.43" y2="119.16" stroke="#153f18" stroke-width="1.35" />
<circle cx="325.43" cy="90.50999999999999" r="1.9" fill="#e4e4d4" stroke="#7e1a12" stroke-width="1.2"/>
<circle cx="325.43" cy="106.19000000000001" r="1.9" fill="#e4e4d4" stroke="#7e1a12" stroke-width="1.2"/>
<rect x="331.36" y="92.2" width="2.6" height="12.2" fill="#d9d2b8" stroke="#7e1a12" stroke-width="1.2"/>
<line x1="329.76" y1="90.6" x2="329.76" y2="106.2" stroke="#7e1a12" stroke-width="1.2" />
<circle cx="332.36" cy="112.6" r="2.6" fill="#c01812"/>
<text x="281.2" y="166.8" font-size="11.3" fill="#931f14" stroke="#931f14" stroke-width="0.1" text-anchor="start" font-weight="bold" class="cn" >复位电路</text>
<line x1="360.1" y1="22.02" x2="401.7" y2="22.02" stroke="#153f18" stroke-width="1.55" />
<rect x="358.3" y="20.22" width="3.6" height="3.6" rx="0.9" fill="#153f18"/>
<line x1="401.69" y1="22.02" x2="413.57" y2="22.02" stroke="#7e1a12" stroke-width="1.55" />
<line x1="417.57" y1="22.02" x2="429.45" y2="22.02" stroke="#7e1a12" stroke-width="1.55" />
<line x1="413.57" y1="15.02" x2="413.57" y2="29.02" stroke="#7e1a12" stroke-width="1.5" />
<line x1="417.57" y1="15.02" x2="417.57" y2="29.02" stroke="#7e1a12" stroke-width="1.5" />
<line x1="429.44" y1="22.02" x2="443.31" y2="22.02" stroke="#153f18" stroke-width="1.55" />
<circle cx="387.83" cy="22.02" r="2.1" fill="#153f18"/>
<text x="367.4" y="20.52" font-size="5.7" fill="#1c1c1a" stroke="#1c1c1a" stroke-width="0.16" text-anchor="start" font-weight="normal" class="t" >PC14</text>
<text x="401.0" y="19.82" font-size="8.3" fill="#1c1c1a" stroke="#1c1c1a" stroke-width="0.16" text-anchor="start" font-weight="normal" class="t" >C4</text>
<text x="422.4" y="20.92" font-size="5.7" fill="#1c1c1a" stroke="#1c1c1a" stroke-width="0.16" text-anchor="start" font-weight="normal" class="t" >12pF</text>
<line x1="360.1" y1="63.65" x2="401.7" y2="63.65" stroke="#153f18" stroke-width="1.55" />
<rect x="358.3" y="61.85" width="3.6" height="3.6" rx="0.9" fill="#153f18"/>
<line x1="401.69" y1="63.65" x2="413.57" y2="63.65" stroke="#7e1a12" stroke-width="1.55" />
<line x1="417.57" y1="63.65" x2="429.45" y2="63.65" stroke="#7e1a12" stroke-width="1.55" />
<line x1="413.57" y1="56.65" x2="413.57" y2="70.65" stroke="#7e1a12" stroke-width="1.5" />
<line x1="417.57" y1="56.65" x2="417.57" y2="70.65" stroke="#7e1a12" stroke-width="1.5" />
<line x1="429.44" y1="63.65" x2="443.31" y2="63.65" stroke="#153f18" stroke-width="1.55" />
<circle cx="387.83" cy="63.65" r="2.1" fill="#153f18"/>
<text x="367.4" y="62.15" font-size="5.7" fill="#1c1c1a" stroke="#1c1c1a" stroke-width="0.16" text-anchor="start" font-weight="normal" class="t" >PC15</text>
<text x="401.0" y="61.45" font-size="8.3" fill="#1c1c1a" stroke="#1c1c1a" stroke-width="0.16" text-anchor="start" font-weight="normal" class="t" >C5</text>
<text x="422.4" y="62.55" font-size="5.7" fill="#1c1c1a" stroke="#1c1c1a" stroke-width="0.16" text-anchor="start" font-weight="normal" class="t" >12pF</text>
<line x1="443.31" y1="22.02" x2="443.31" y2="63.65" stroke="#153f18" stroke-width="1.35" />
<circle cx="443.31" cy="42.83" r="2.1" fill="#153f18"/>
<line x1="443.31" y1="42.83" x2="464.11" y2="42.83" stroke="#153f18" stroke-width="1.55" />
<line x1="464.11" y1="35.83" x2="464.11" y2="49.83" stroke="#153f18" stroke-width="1.35" />
<line x1="467.51" y1="38.83" x2="467.51" y2="46.83" stroke="#153f18" stroke-width="1.3" />
<line x1="470.71000000000004" y1="41.83" x2="470.71000000000004" y2="43.83" stroke="#153f18" stroke-width="1.3" />
<line x1="387.83" y1="22.02" x2="387.83" y2="28.96" stroke="#153f18" stroke-width="1.35" />
<line x1="387.83" y1="56.71" x2="387.83" y2="63.65" stroke="#153f18" stroke-width="1.35" />
<line x1="387.83" y1="28.96" x2="387.83" y2="35.83" stroke="#7e1a12" stroke-width="1.35" />
<line x1="387.83" y1="49.83" x2="387.83" y2="56.71" stroke="#7e1a12" stroke-width="1.35" />
<line x1="376.33" y1="35.83" x2="399.33" y2="35.83" stroke="#7e1a12" stroke-width="1.5" />
<line x1="376.33" y1="49.83" x2="399.33" y2="49.83" stroke="#7e1a12" stroke-width="1.5" />
<rect x="380.63" y="38.93" width="14.4" height="7.8" fill="#c8c6a8" stroke="#7e1a12" stroke-width="1.4"/>
<text x="402.2" y="43.23" font-size="8.3" fill="#1c1c1a" stroke="#1c1c1a" stroke-width="0.16" text-anchor="start" font-weight="normal" class="t" >X2</text>
<text x="402.2" y="51.83" font-size="5.7" fill="#1c1c1a" stroke="#1c1c1a" stroke-width="0.16" text-anchor="start" font-weight="normal" class="t" >32.768KHz</text>
<line x1="360.1" y1="91.41" x2="401.7" y2="91.41" stroke="#153f18" stroke-width="1.55" />
<rect x="358.3" y="89.61" width="3.6" height="3.6" rx="0.9" fill="#153f18"/>
<line x1="401.69" y1="91.41" x2="413.57" y2="91.41" stroke="#7e1a12" stroke-width="1.55" />
<line x1="417.57" y1="91.41" x2="429.45" y2="91.41" stroke="#7e1a12" stroke-width="1.55" />
<line x1="413.57" y1="84.41" x2="413.57" y2="98.41" stroke="#7e1a12" stroke-width="1.5" />
<line x1="417.57" y1="84.41" x2="417.57" y2="98.41" stroke="#7e1a12" stroke-width="1.5" />
<line x1="429.44" y1="91.41" x2="443.31" y2="91.41" stroke="#153f18" stroke-width="1.55" />
<circle cx="387.83" cy="91.41" r="2.1" fill="#153f18"/>
<text x="367.4" y="89.91" font-size="5.7" fill="#1c1c1a" stroke="#1c1c1a" stroke-width="0.16" text-anchor="start" font-weight="normal" class="t" >OSCIN</text>
<text x="401.0" y="89.21" font-size="8.3" fill="#1c1c1a" stroke="#1c1c1a" stroke-width="0.16" text-anchor="start" font-weight="normal" class="t" >C1</text>
<text x="422.4" y="90.31" font-size="5.7" fill="#1c1c1a" stroke="#1c1c1a" stroke-width="0.16" text-anchor="start" font-weight="normal" class="t" >12pF</text>
<line x1="360.1" y1="133.04" x2="401.7" y2="133.04" stroke="#153f18" stroke-width="1.55" />
<rect x="358.3" y="131.24" width="3.6" height="3.6" rx="0.9" fill="#153f18"/>
<line x1="401.69" y1="133.04" x2="413.57" y2="133.04" stroke="#7e1a12" stroke-width="1.55" />
<line x1="417.57" y1="133.04" x2="429.45" y2="133.04" stroke="#7e1a12" stroke-width="1.55" />
<line x1="413.57" y1="126.03999999999999" x2="413.57" y2="140.04" stroke="#7e1a12" stroke-width="1.5" />
<line x1="417.57" y1="126.03999999999999" x2="417.57" y2="140.04" stroke="#7e1a12" stroke-width="1.5" />
<line x1="429.44" y1="133.04" x2="443.31" y2="133.04" stroke="#153f18" stroke-width="1.55" />
<circle cx="387.83" cy="133.04" r="2.1" fill="#153f18"/>
<text x="367.4" y="131.54" font-size="5.7" fill="#1c1c1a" stroke="#1c1c1a" stroke-width="0.16" text-anchor="start" font-weight="normal" class="t" >OSCOUT</text>
<text x="401.0" y="130.84" font-size="8.3" fill="#1c1c1a" stroke="#1c1c1a" stroke-width="0.16" text-anchor="start" font-weight="normal" class="t" >C2</text>
<text x="422.4" y="131.94" font-size="5.7" fill="#1c1c1a" stroke="#1c1c1a" stroke-width="0.16" text-anchor="start" font-weight="normal" class="t" >12pF</text>
<line x1="443.31" y1="91.41" x2="443.31" y2="133.04" stroke="#153f18" stroke-width="1.35" />
<circle cx="443.31" cy="112.22" r="2.1" fill="#153f18"/>
<line x1="443.31" y1="112.22" x2="464.11" y2="112.22" stroke="#153f18" stroke-width="1.55" />
<line x1="464.11" y1="105.22" x2="464.11" y2="119.22" stroke="#153f18" stroke-width="1.35" />
<line x1="467.51" y1="108.22" x2="467.51" y2="116.22" stroke="#153f18" stroke-width="1.3" />
<line x1="470.71000000000004" y1="111.22" x2="470.71000000000004" y2="113.22" stroke="#153f18" stroke-width="1.3" />
<line x1="387.83" y1="91.41" x2="387.83" y2="98.35" stroke="#153f18" stroke-width="1.35" />
<line x1="387.83" y1="126.1" x2="387.83" y2="133.04" stroke="#153f18" stroke-width="1.35" />
<line x1="387.83" y1="98.35" x2="387.83" y2="105.22" stroke="#7e1a12" stroke-width="1.35" />
<line x1="387.83" y1="119.22" x2="387.83" y2="126.1" stroke="#7e1a12" stroke-width="1.35" />
<line x1="376.33" y1="105.22" x2="399.33" y2="105.22" stroke="#7e1a12" stroke-width="1.5" />
<line x1="376.33" y1="119.22" x2="399.33" y2="119.22" stroke="#7e1a12" stroke-width="1.5" />
<rect x="380.63" y="108.32" width="14.4" height="7.8" fill="#c8c6a8" stroke="#7e1a12" stroke-width="1.4"/>
<text x="402.2" y="112.62" font-size="8.3" fill="#1c1c1a" stroke="#1c1c1a" stroke-width="0.16" text-anchor="start" font-weight="normal" class="t" >X1</text>
<text x="402.2" y="121.22" font-size="5.7" fill="#1c1c1a" stroke="#1c1c1a" stroke-width="0.16" text-anchor="start" font-weight="normal" class="t" >8M</text>
<text x="384.8" y="166.8" font-size="11.3" fill="#931f14" stroke="#931f14" stroke-width="0.1" text-anchor="start" font-weight="bold" class="cn" >晶振电路</text>
<polyline points="523.21,29.26 526.51,22.62 529.81,29.26 523.21,29.26" fill="none" stroke="#153f18" stroke-width="1.5" stroke-linejoin="miter"/>
<line x1="526.51" y1="28.96" x2="526.51" y2="42.83" stroke="#153f18" stroke-width="1.35" />
<line x1="526.51" y1="42.83" x2="526.51" y2="77.53" stroke="#7e1a12" stroke-width="1.35" />
<rect x="524.31" y="49.77" width="4.4" height="20.82" fill="#e4ddc8" stroke="#7e1a12" stroke-width="1.3"/>
<line x1="526.51" y1="77.53" x2="526.51" y2="84.47" stroke="#153f18" stroke-width="1.35" />
<line x1="526.51" y1="84.47" x2="526.51" y2="112.22" stroke="#7e1a12" stroke-width="1.35" />
<line x1="526.51" y1="112.22" x2="526.51" y2="139.98" stroke="#153f18" stroke-width="1.35" />
<rect x="524.71" y="138.18" width="3.6" height="3.6" rx="0.9" fill="#153f18"/>
<circle cx="526.51" cy="98.35" r="7.9" fill="#1a0806" stroke="#7e1a12" stroke-width="1.6"/>
<line x1="526.51" y1="90.44999999999999" x2="526.51" y2="106.25" stroke="#a03024" stroke-width="1.1" />
<polyline points="522.91,95.75 530.11,95.75 526.51,101.14999999999999 522.91,95.75" fill="none" stroke="#b03a2c" stroke-width="1.0" stroke-linejoin="miter"/>
<line x1="522.91" y1="101.25" x2="530.11" y2="101.25" stroke="#b03a2c" stroke-width="1.0" />
<text x="534.0" y="57.6" font-size="8.3" fill="#1c1c1a" stroke="#1c1c1a" stroke-width="0.16" text-anchor="start" font-weight="normal" class="t" >R2</text>
<text x="534.0" y="66.0" font-size="5.7" fill="#1c1c1a" stroke="#1c1c1a" stroke-width="0.16" text-anchor="start" font-weight="normal" class="t" >300</text>
<text x="539.2" y="97.6" font-size="8.3" fill="#1c1c1a" stroke="#1c1c1a" stroke-width="0.16" text-anchor="start" font-weight="normal" class="t" >D2</text>
<text x="539.2" y="105.2" font-size="5.7" fill="#1c1c1a" stroke="#1c1c1a" stroke-width="0.16" text-anchor="start" font-weight="normal" class="t" >LED-GREEN</text>
<text transform="translate(524.11,133.4) rotate(-90)" font-size="5.9" fill="#1c1c1a" class="t">PC13</text>
<text x="492.2" y="166.8" font-size="11.3" fill="#931f14" stroke="#931f14" stroke-width="0.1" text-anchor="start" font-weight="bold" class="cn" >程序运行指示灯</text>
<line x1="609.72" y1="42.83" x2="609.72" y2="84.47" stroke="#153f18" stroke-width="1.35" />
<line x1="602.72" y1="84.47" x2="616.72" y2="84.47" stroke="#153f18" stroke-width="1.55" />
<line x1="605.82" y1="88.07" x2="613.62" y2="88.07" stroke="#153f18" stroke-width="1.4" />
<line x1="608.4200000000001" y1="91.47" x2="611.02" y2="91.47" stroke="#153f18" stroke-width="1.3" />
<circle cx="609.72" cy="70.59" r="2.1" fill="#153f18"/>
<line x1="609.72" y1="42.83" x2="616.66" y2="42.83" stroke="#153f18" stroke-width="1.55" />
<line x1="616.66" y1="42.83" x2="651.33" y2="42.83" stroke="#7e1a12" stroke-width="1.55" />
<rect x="623.6" y="40.63" width="20.79" height="4.4" fill="#dcd5bd" stroke="#7e1a12" stroke-width="1.3"/>
<line x1="651.33" y1="42.83" x2="686.0" y2="42.83" stroke="#153f18" stroke-width="1.55" />
<rect x="684.2" y="41.03" width="3.6" height="3.6" rx="0.9" fill="#153f18"/>
<text x="624.0" y="38.23" font-size="8.3" fill="#1c1c1a" stroke="#1c1c1a" stroke-width="0.16" text-anchor="start" font-weight="normal" class="t" >R1</text>
<text x="624.0" y="52.03" font-size="5.7" fill="#1c1c1a" stroke="#1c1c1a" stroke-width="0.16" text-anchor="start" font-weight="normal" class="t" >10k</text>
<text x="665.4" y="40.93" font-size="5.7" fill="#1c1c1a" stroke="#1c1c1a" stroke-width="0.16" text-anchor="start" font-weight="normal" class="t" >BOOT0</text>
<line x1="609.72" y1="70.59" x2="616.66" y2="70.59" stroke="#153f18" stroke-width="1.55" />
<line x1="616.66" y1="70.59" x2="651.33" y2="70.59" stroke="#7e1a12" stroke-width="1.55" />
<rect x="623.6" y="68.39" width="20.79" height="4.4" fill="#dcd5bd" stroke="#7e1a12" stroke-width="1.3"/>
<line x1="651.33" y1="70.59" x2="686.0" y2="70.59" stroke="#153f18" stroke-width="1.55" />
<rect x="684.2" y="68.79" width="3.6" height="3.6" rx="0.9" fill="#153f18"/>
<text x="624.0" y="65.99" font-size="8.3" fill="#1c1c1a" stroke="#1c1c1a" stroke-width="0.16" text-anchor="start" font-weight="normal" class="t" >R4</text>
<text x="624.0" y="79.79" font-size="5.7" fill="#1c1c1a" stroke="#1c1c1a" stroke-width="0.16" text-anchor="start" font-weight="normal" class="t" >10k</text>
<text x="665.4" y="68.69" font-size="5.7" fill="#1c1c1a" stroke="#1c1c1a" stroke-width="0.16" text-anchor="start" font-weight="normal" class="t" >BOOT1</text>
<rect x="656.36" y="40.93" width="3.8" height="3.8" rx="0.9" fill="#3a1a10"/>
<polyline points="602.79,22.02 599.49,18.12" fill="none" stroke="#3a3aa6" stroke-width="1.3" stroke-linejoin="miter"/>
<polyline points="599.49,18.12 592.1899999999999,15.42 595.99,12.32 599.49,18.12" fill="none" stroke="#3a3aa6" stroke-width="1.2" stroke-linejoin="miter"/>
<rect x="603.59" y="15.72" width="12.4" height="3.0" fill="#c9cbe0" stroke="none"/>
<line x1="603.5899999999999" y1="17.02" x2="615.99" y2="17.02" stroke="#3a3aa6" stroke-width="1.0" stroke-dasharray="1.6 0.8"/>
<line x1="603.5899999999999" y1="18.919999999999998" x2="615.99" y2="18.919999999999998" stroke="#3a3aa6" stroke-width="0.9" />
<text x="583.6" y="14.2" font-size="5.6" fill="#3a3aa6" stroke="#3a3aa6" stroke-width="0.16" text-anchor="start" font-weight="normal" class="t" >(1)</text>
<line x1="602.79" y1="22.02" x2="611.32" y2="22.02" stroke="#153f18" stroke-width="1.55" />
<line x1="611.32" y1="22.02" x2="620.92" y2="22.02" stroke="#7e1a12" stroke-width="1.55" />
<circle cx="622.62" cy="22.02" r="1.9" fill="#e4e4d4" stroke="#7e1a12" stroke-width="1.2"/>
<circle cx="638.42" cy="22.02" r="1.9" fill="#e4e4d4" stroke="#7e1a12" stroke-width="1.2"/>
<polyline points="640.3199999999999,22.02 658.26,22.02 658.26,42.83" fill="none" stroke="#5e2a14" stroke-width="1.5" stroke-linejoin="miter"/>
<line x1="620.72" y1="16.619999999999997" x2="640.3199999999999" y2="16.619999999999997" stroke="#7e1a12" stroke-width="1.3" />
<rect x="625.12" y="12.62" width="10.8" height="3.4" fill="#d9d2b8" stroke="#7e1a12" stroke-width="1.2"/>
<circle cx="645.2" cy="15.6" r="2.6" fill="#c01812"/>
<text x="621.8" y="111.0" font-size="11.3" fill="#931f14" stroke="#931f14" stroke-width="0.1" text-anchor="start" font-weight="bold" class="cn" >BOOT电路</text>
<path d="M596.9 85.0 L596.9 95.4 L599.4 93.1 L601.2 96.9 L602.9 96.1 L601.1 92.4 L604.3 92.4 Z" fill="#f4f4f4" stroke="#444" stroke-width="0.8"/>
<rect x="796.94" y="35.9" width="83.21" height="55.51" fill="#c8c6a8" stroke="#7e1a12" stroke-width="1.5"/>
<rect x="817.74" y="42.83" width="55.47" height="41.64" fill="#000000" stroke="none" stroke-width="0"/>
<rect x="820.6" y="46.3" width="4.2" height="3.2" fill="#20d040" stroke="none" stroke-width="0"/>
<line x1="783.07" y1="42.83" x2="796.94" y2="42.83" stroke="#7e1a12" stroke-width="1.55" />
<text x="800.94" y="44.83" font-size="5.7" fill="#1c1c1a" stroke="#1c1c1a" stroke-width="0.16" text-anchor="start" font-weight="normal" class="t" >RXD</text>
<line x1="762.27" y1="42.83" x2="783.07" y2="42.83" stroke="#153f18" stroke-width="1.55" />
<circle cx="762.27" cy="42.83" r="2.0" fill="#153f18"/>
<text x="769.6" y="41.13" font-size="5.7" fill="#1c1c1a" stroke="#1c1c1a" stroke-width="0.16" text-anchor="start" font-weight="normal" class="t" >PA9</text>
<line x1="783.07" y1="56.71" x2="796.94" y2="56.71" stroke="#7e1a12" stroke-width="1.55" />
<text x="800.94" y="58.71" font-size="5.7" fill="#1c1c1a" stroke="#1c1c1a" stroke-width="0.16" text-anchor="start" font-weight="normal" class="t" >TXD</text>
<line x1="762.27" y1="56.71" x2="783.07" y2="56.71" stroke="#153f18" stroke-width="1.55" />
<circle cx="762.27" cy="56.71" r="2.0" fill="#153f18"/>
<text x="769.6" y="55.01" font-size="5.7" fill="#1c1c1a" stroke="#1c1c1a" stroke-width="0.16" text-anchor="start" font-weight="normal" class="t" >PA10</text>
<line x1="783.07" y1="70.59" x2="796.94" y2="70.59" stroke="#7e1a12" stroke-width="1.55" />
<text x="800.94" y="72.59" font-size="5.7" fill="#1c1c1a" stroke="#1c1c1a" stroke-width="0.16" text-anchor="start" font-weight="normal" class="t" >RTS</text>
<line x1="783.07" y1="84.47" x2="796.94" y2="84.47" stroke="#7e1a12" stroke-width="1.55" />
<text x="800.94" y="86.47" font-size="5.7" fill="#1c1c1a" stroke="#1c1c1a" stroke-width="0.16" text-anchor="start" font-weight="normal" class="t" >CTS</text>
<text x="764.0" y="118.0" font-size="11.3" fill="#931f14" stroke="#931f14" stroke-width="0.1" text-anchor="start" font-weight="bold" class="cn" >串口1窗口（模拟手机端）</text>
<rect x="314.4" y="273.8" width="120" height="58.2" fill="#ffffff" stroke="#000000" stroke-width="5"/>
<line x1="360.1" y1="237.13" x2="360.1" y2="251.0" stroke="#7e1a12" stroke-width="1.35" />
<text transform="translate(362.1,267.6) rotate(-90)" font-size="5.9" fill="#1c1c1a" stroke="#1c1c1a" stroke-width="0.2" class="t">GND</text>
<text x="361.3" y="245.0" font-size="3.6" fill="#1c1c1a" class="t">1</text>
<line x1="367.03" y1="237.13" x2="367.03" y2="251.0" stroke="#7e1a12" stroke-width="1.35" />
<text transform="translate(369.03,267.6) rotate(-90)" font-size="5.9" fill="#1c1c1a" stroke="#1c1c1a" stroke-width="0.2" class="t">VCC</text>
<text x="368.22999999999996" y="245.0" font-size="3.6" fill="#1c1c1a" class="t">2</text>
<line x1="373.97" y1="237.13" x2="373.97" y2="251.0" stroke="#7e1a12" stroke-width="1.35" />
<text transform="translate(375.97,267.6) rotate(-90)" font-size="5.9" fill="#1c1c1a" stroke="#1c1c1a" stroke-width="0.2" class="t">SCL</text>
<text x="375.17" y="245.0" font-size="3.6" fill="#1c1c1a" class="t">3</text>
<line x1="380.9" y1="237.13" x2="380.9" y2="251.0" stroke="#7e1a12" stroke-width="1.35" />
<text transform="translate(382.9,267.6) rotate(-90)" font-size="5.9" fill="#1c1c1a" stroke="#1c1c1a" stroke-width="0.2" class="t">SDA</text>
<text x="382.09999999999997" y="245.0" font-size="3.6" fill="#1c1c1a" class="t">4</text>
<polyline points="360.1,237.13 360.1,223.25 346.23,223.25" fill="none" stroke="#153f18" stroke-width="1.45" stroke-linejoin="miter"/>
<line x1="346.23" y1="216.25" x2="346.23" y2="230.25" stroke="#153f18" stroke-width="1.35" />
<line x1="342.83000000000004" y1="219.25" x2="342.83000000000004" y2="227.25" stroke="#153f18" stroke-width="1.3" />
<line x1="339.63" y1="222.25" x2="339.63" y2="224.25" stroke="#153f18" stroke-width="1.3" />
<line x1="367.03" y1="237.13" x2="367.03" y2="202.43" stroke="#153f18" stroke-width="1.35" />
<polyline points="363.72999999999996,202.73000000000002 367.03,196.09 370.33,202.73000000000002 363.72999999999996,202.73000000000002" fill="none" stroke="#153f18" stroke-width="1.5" stroke-linejoin="miter"/>
<line x1="373.97" y1="237.13" x2="373.97" y2="209.37" stroke="#153f18" stroke-width="1.35" />
<circle cx="373.97" cy="209.37" r="1.9" fill="#153f18"/>
<text transform="translate(372.47,230.6) rotate(-90)" font-size="5.6" fill="#1c1c1a" class="t">PB6</text>
<line x1="380.9" y1="237.13" x2="380.9" y2="209.37" stroke="#153f18" stroke-width="1.35" />
<circle cx="380.9" cy="209.37" r="1.9" fill="#153f18"/>
<text transform="translate(379.4,230.6) rotate(-90)" font-size="5.6" fill="#1c1c1a" class="t">PB7</text>
<text x="308.2" y="356.8" font-size="8.3" fill="#1c1c1a" stroke="#1c1c1a" stroke-width="0.16" text-anchor="start" font-weight="normal" class="t" >LCD1</text>
<text x="398.0" y="357.2" font-size="5.85" fill="#1c1c1a" stroke="#1c1c1a" stroke-width="0.16" text-anchor="start" font-weight="normal" class="t" >OLED12864I2C</text>
<text x="346.2" y="381.2" font-size="11.3" fill="#931f14" stroke="#931f14" stroke-width="0.1" text-anchor="start" font-weight="bold" class="cn" >OLED显示屏</text>
<g stroke="#3a3aa6" stroke-width="0.9" fill="none"><circle cx="520" cy="279.2" r="2.6"/><path d="M516.2 279.2H523.8M520 275.4V283"/></g>
<circle cx="520" cy="279.2" r="1.3" fill="#3a3aa6"/>
<rect x="651.33" y="292.64" width="62.4" height="34.69" fill="#c8c6a8" stroke="#7e1a12" stroke-width="1.5"/>
<line x1="609.72" y1="299.58" x2="637.46" y2="299.58" stroke="#153f18" stroke-width="1.55" />
<circle cx="609.72" cy="299.58" r="2.0" fill="#153f18"/>
<line x1="637.46" y1="299.58" x2="651.33" y2="299.58" stroke="#7e1a12" stroke-width="1.55" />
<text x="654.53" y="301.58" font-size="5.7" fill="#1c1c1a" stroke="#1c1c1a" stroke-width="0.16" text-anchor="start" font-weight="normal" class="t" >TX</text>
<text x="616.6" y="298.08" font-size="5.7" fill="#1c1c1a" stroke="#1c1c1a" stroke-width="0.16" text-anchor="start" font-weight="normal" class="t" >PB11</text>
<line x1="609.72" y1="306.52" x2="637.46" y2="306.52" stroke="#153f18" stroke-width="1.55" />
<circle cx="609.72" cy="306.52" r="2.0" fill="#153f18"/>
<line x1="637.46" y1="306.52" x2="651.33" y2="306.52" stroke="#7e1a12" stroke-width="1.55" />
<text x="654.53" y="308.52" font-size="5.7" fill="#1c1c1a" stroke="#1c1c1a" stroke-width="0.16" text-anchor="start" font-weight="normal" class="t" >RX</text>
<text x="616.6" y="305.02" font-size="5.7" fill="#1c1c1a" stroke="#1c1c1a" stroke-width="0.16" text-anchor="start" font-weight="normal" class="t" >PB10</text>
<rect x="665.2" y="296.6" width="41.6" height="6.4" fill="#0b4412" stroke="#1c8a2c" stroke-width="0.7"/>
<rect x="665.2" y="303.9" width="41.6" height="6.4" fill="#0b4412" stroke="#1c8a2c" stroke-width="0.7"/>
<text x="686" y="301.8" font-size="5.4" fill="#2fae42" stroke="#2fae42" stroke-width="0.16" text-anchor="middle" font-weight="normal" class="t" >31.566265 N</text>
<text x="686" y="309.1" font-size="5.4" fill="#2fae42" stroke="#2fae42" stroke-width="0.16" text-anchor="middle" font-weight="normal" class="t" >120.123456 E</text>
<circle cx="675.8" cy="320.6" r="2.6" fill="#c01812"/>
<circle cx="682.2" cy="320.6" r="2.6" fill="#c01812"/>
<rect x="689.4" y="316.4" width="17.6" height="8.2" fill="#0c18a2" stroke="none" stroke-width="0"/>
<text x="698.2" y="322.4" font-size="5.0" fill="#4a86e8" stroke="#4a86e8" stroke-width="0.16" text-anchor="middle" font-weight="normal" class="t" >16</text>
<text x="650.8" y="290.4" font-size="8.3" fill="#1c1c1a" stroke="#1c1c1a" stroke-width="0.16" text-anchor="start" font-weight="normal" class="t" >GPS1</text>
<text x="650.8" y="333.4" font-size="5.7" fill="#1c1c1a" stroke="#1c1c1a" stroke-width="0.16" text-anchor="start" font-weight="normal" class="t" >VGPS</text>
<text x="649.2" y="353.2" font-size="11.3" fill="#931f14" stroke="#931f14" stroke-width="0.1" text-anchor="start" font-weight="bold" class="cn" >GPS模块</text>
<polyline points="124.34,451.04 121.04,447.14000000000004" fill="none" stroke="#3a3aa6" stroke-width="1.3" stroke-linejoin="miter"/>
<polyline points="121.04,447.14000000000004 113.74000000000001,444.44 117.54,441.34000000000003 121.04,447.14000000000004" fill="none" stroke="#3a3aa6" stroke-width="1.2" stroke-linejoin="miter"/>
<rect x="125.14" y="444.74" width="12.4" height="3.0" fill="#c9cbe0" stroke="none"/>
<line x1="125.14" y1="446.04" x2="137.54" y2="446.04" stroke="#3a3aa6" stroke-width="1.0" stroke-dasharray="1.6 0.8"/>
<line x1="125.14" y1="447.94" x2="137.54" y2="447.94" stroke="#3a3aa6" stroke-width="0.9" />
<text x="93.74" y="443.24" font-size="5.6" fill="#3a3aa6" stroke="#3a3aa6" stroke-width="0.16" text-anchor="start" font-weight="normal" class="t" >RV4(2)</text>
<line x1="124.34" y1="451.04" x2="124.34" y2="466.11" stroke="#153f18" stroke-width="1.35" />
<line x1="124.34" y1="466.11" x2="124.34" y2="507.75" stroke="#7e1a12" stroke-width="1.35" />
<line x1="124.34" y1="507.75" x2="124.34" y2="521.62" stroke="#153f18" stroke-width="1.35" />
<line x1="117.34" y1="521.62" x2="131.34" y2="521.62" stroke="#153f18" stroke-width="1.55" />
<line x1="120.44" y1="525.22" x2="128.24" y2="525.22" stroke="#153f18" stroke-width="1.4" />
<line x1="123.04" y1="528.62" x2="125.64" y2="528.62" stroke="#153f18" stroke-width="1.3" />
<rect x="121.44" y="476.93" width="5.8" height="20" fill="#d9d2b8" stroke="#7e1a12" stroke-width="1.3"/>
<polyline points="127.74000000000001,493.13 130.94,490.93 130.94,486.93 138.21,486.93" fill="none" stroke="#7e1a12" stroke-width="1.4" stroke-linejoin="miter"/>
<path d="M127.34 493.53000000000003 l3.2 -0.6 l-1.6 -2.6z" fill="#7e1a12"/>
<line x1="138.21" y1="486.93" x2="172.88" y2="486.93" stroke="#153f18" stroke-width="1.55" />
<rect x="171.08" y="485.13" width="3.6" height="3.6" rx="0.9" fill="#153f18"/>
<circle cx="116.74000000000001" cy="479.73" r="2.6" fill="#c01812"/>
<circle cx="116.74000000000001" cy="494.73" r="2.6" fill="#c01812"/>
<text x="123.44" y="488.93" font-size="4.2" fill="#b0584a" class="t" text-anchor="middle">50</text>
<text x="132.74" y="464.0" font-size="8.3" fill="#1c1c1a" stroke="#1c1c1a" stroke-width="0.16" text-anchor="start" font-weight="normal" class="t" >RV4</text>
<text x="132.74" y="513.6" font-size="5.7" fill="#1c1c1a" stroke="#1c1c1a" stroke-width="0.16" text-anchor="start" font-weight="normal" class="t" >10k</text>
<text x="146.14" y="484.73" font-size="5.7" fill="#1c1c1a" stroke="#1c1c1a" stroke-width="0.16" text-anchor="start" font-weight="normal" class="t" >PA0</text>
<text x="45.8" y="492.6" font-size="11.3" fill="#931f14" stroke="#931f14" stroke-width="0.1" text-anchor="start" font-weight="bold" class="cn" >体温值调节</text>
<polyline points="318.49,451.04 315.19,447.14000000000004" fill="none" stroke="#3a3aa6" stroke-width="1.3" stroke-linejoin="miter"/>
<polyline points="315.19,447.14000000000004 307.89,444.44 311.69,441.34000000000003 315.19,447.14000000000004" fill="none" stroke="#3a3aa6" stroke-width="1.2" stroke-linejoin="miter"/>
<rect x="319.29" y="444.74" width="12.4" height="3.0" fill="#c9cbe0" stroke="none"/>
<line x1="319.29" y1="446.04" x2="331.69" y2="446.04" stroke="#3a3aa6" stroke-width="1.0" stroke-dasharray="1.6 0.8"/>
<line x1="319.29" y1="447.94" x2="331.69" y2="447.94" stroke="#3a3aa6" stroke-width="0.9" />
<text x="287.89" y="443.24" font-size="5.6" fill="#3a3aa6" stroke="#3a3aa6" stroke-width="0.16" text-anchor="start" font-weight="normal" class="t" >RV1(2)</text>
<line x1="318.49" y1="451.04" x2="318.49" y2="466.11" stroke="#153f18" stroke-width="1.35" />
<line x1="318.49" y1="466.11" x2="318.49" y2="507.75" stroke="#7e1a12" stroke-width="1.35" />
<line x1="318.49" y1="507.75" x2="318.49" y2="521.62" stroke="#153f18" stroke-width="1.35" />
<line x1="311.49" y1="521.62" x2="325.49" y2="521.62" stroke="#153f18" stroke-width="1.55" />
<line x1="314.59000000000003" y1="525.22" x2="322.39" y2="525.22" stroke="#153f18" stroke-width="1.4" />
<line x1="317.19" y1="528.62" x2="319.79" y2="528.62" stroke="#153f18" stroke-width="1.3" />
<rect x="315.59" y="476.93" width="5.8" height="20" fill="#d9d2b8" stroke="#7e1a12" stroke-width="1.3"/>
<polyline points="321.89,493.13 325.09000000000003,490.93 325.09000000000003,486.93 332.36,486.93" fill="none" stroke="#7e1a12" stroke-width="1.4" stroke-linejoin="miter"/>
<path d="M321.49 493.53000000000003 l3.2 -0.6 l-1.6 -2.6z" fill="#7e1a12"/>
<line x1="332.36" y1="486.93" x2="367.03" y2="486.93" stroke="#153f18" stroke-width="1.55" />
<rect x="365.23" y="485.13" width="3.6" height="3.6" rx="0.9" fill="#153f18"/>
<circle cx="310.89" cy="479.73" r="2.6" fill="#c01812"/>
<circle cx="310.89" cy="494.73" r="2.6" fill="#c01812"/>
<text x="317.59000000000003" y="488.93" font-size="4.2" fill="#b0584a" class="t" text-anchor="middle">50</text>
<text x="326.89" y="464.0" font-size="8.3" fill="#1c1c1a" stroke="#1c1c1a" stroke-width="0.16" text-anchor="start" font-weight="normal" class="t" >RV1</text>
<text x="326.89" y="513.6" font-size="5.7" fill="#1c1c1a" stroke="#1c1c1a" stroke-width="0.16" text-anchor="start" font-weight="normal" class="t" >10k</text>
<text x="340.29" y="484.73" font-size="5.7" fill="#1c1c1a" stroke="#1c1c1a" stroke-width="0.16" text-anchor="start" font-weight="normal" class="t" >PA1</text>
<text x="240.4" y="492.6" font-size="11.3" fill="#931f14" stroke="#931f14" stroke-width="0.1" text-anchor="start" font-weight="bold" class="cn" >心率值调节</text>
<line x1="457.17" y1="486.93" x2="484.91" y2="486.93" stroke="#153f18" stroke-width="1.55" />
<rect x="455.37" y="485.13" width="3.6" height="3.6" rx="0.9" fill="#153f18"/>
<line x1="484.91" y1="486.93" x2="492.37" y2="486.93" stroke="#7e1a12" stroke-width="1.55" />
<line x1="495.17" y1="486.13" x2="506.17" y2="480.79" stroke="#7e1a12" stroke-width="1.4" />
<circle cx="493.97" cy="486.93" r="1.6" fill="#e4e4d4" stroke="#7e1a12" stroke-width="1.1"/>
<circle cx="507.37" cy="479.99" r="1.6" fill="#e4e4d4" stroke="#7e1a12" stroke-width="1.1"/>
<line x1="508.97" y1="479.99" x2="519.58" y2="479.99" stroke="#7e1a12" stroke-width="1.55" />
<circle cx="507.37" cy="493.87" r="1.6" fill="#e4e4d4" stroke="#7e1a12" stroke-width="1.1"/>
<line x1="508.97" y1="493.87" x2="519.58" y2="493.87" stroke="#7e1a12" stroke-width="1.55" />
<line x1="519.58" y1="479.99" x2="540.38" y2="479.99" stroke="#153f18" stroke-width="1.55" />
<polyline points="540.38,476.39 547.32,479.99 540.38,483.59000000000003 540.38,476.39" fill="none" stroke="#153f18" stroke-width="1.4" stroke-linejoin="miter"/>
<line x1="519.58" y1="493.87" x2="540.38" y2="493.87" stroke="#153f18" stroke-width="1.55" />
<line x1="540.38" y1="486.87" x2="540.38" y2="500.87" stroke="#153f18" stroke-width="1.35" />
<line x1="543.78" y1="489.87" x2="543.78" y2="497.87" stroke="#153f18" stroke-width="1.3" />
<line x1="546.98" y1="492.87" x2="546.98" y2="494.87" stroke="#153f18" stroke-width="1.3" />
<circle cx="513.97" cy="481.79" r="2.6" fill="#c01812"/>
<circle cx="513.97" cy="489.87" r="2.6" fill="#c01812"/>
<text x="491.37" y="477.0" font-size="8.3" fill="#1c1c1a" stroke="#1c1c1a" stroke-width="0.16" text-anchor="start" font-weight="normal" class="t" >SW2</text>
<text x="491.37" y="501.4" font-size="5.7" fill="#1c1c1a" stroke="#1c1c1a" stroke-width="0.16" text-anchor="start" font-weight="normal" class="t" >SW-SPDT</text>
<text x="464.37" y="484.93" font-size="5.7" fill="#1c1c1a" stroke="#1c1c1a" stroke-width="0.16" text-anchor="start" font-weight="normal" class="t" >PB14</text>
<text x="561.2" y="485.2" font-size="11.3" fill="#931f14" stroke="#931f14" stroke-width="0.1" text-anchor="start" font-weight="bold" class="cn" >左</text>
<text x="561.2" y="499.6" font-size="11.3" fill="#931f14" stroke="#931f14" stroke-width="0.1" text-anchor="start" font-weight="bold" class="cn" >右</text>
<text x="481.2" y="527.2" font-size="11.3" fill="#931f14" stroke="#931f14" stroke-width="0.1" text-anchor="start" font-weight="bold" class="cn" >步数监测</text>
<line x1="672.13" y1="486.93" x2="699.86" y2="486.93" stroke="#153f18" stroke-width="1.55" />
<rect x="670.33" y="485.13" width="3.6" height="3.6" rx="0.9" fill="#153f18"/>
<line x1="699.86" y1="486.93" x2="707.3299999999999" y2="486.93" stroke="#7e1a12" stroke-width="1.55" />
<line x1="710.13" y1="486.13" x2="721.13" y2="480.79" stroke="#7e1a12" stroke-width="1.4" />
<circle cx="708.93" cy="486.93" r="1.6" fill="#e4e4d4" stroke="#7e1a12" stroke-width="1.1"/>
<circle cx="722.33" cy="479.99" r="1.6" fill="#e4e4d4" stroke="#7e1a12" stroke-width="1.1"/>
<line x1="723.93" y1="479.99" x2="734.53" y2="479.99" stroke="#7e1a12" stroke-width="1.55" />
<circle cx="722.33" cy="493.87" r="1.6" fill="#e4e4d4" stroke="#7e1a12" stroke-width="1.1"/>
<line x1="723.93" y1="493.87" x2="734.53" y2="493.87" stroke="#7e1a12" stroke-width="1.55" />
<line x1="734.53" y1="479.99" x2="755.34" y2="479.99" stroke="#153f18" stroke-width="1.55" />
<polyline points="755.34,476.39 762.27,479.99 755.34,483.59000000000003 755.34,476.39" fill="none" stroke="#153f18" stroke-width="1.4" stroke-linejoin="miter"/>
<line x1="734.53" y1="493.87" x2="755.34" y2="493.87" stroke="#153f18" stroke-width="1.55" />
<line x1="755.34" y1="486.87" x2="755.34" y2="500.87" stroke="#153f18" stroke-width="1.35" />
<line x1="758.74" y1="489.87" x2="758.74" y2="497.87" stroke="#153f18" stroke-width="1.3" />
<line x1="761.94" y1="492.87" x2="761.94" y2="494.87" stroke="#153f18" stroke-width="1.3" />
<circle cx="728.93" cy="481.79" r="2.6" fill="#c01812"/>
<circle cx="728.93" cy="489.87" r="2.6" fill="#c01812"/>
<text x="706.33" y="477.0" font-size="8.3" fill="#1c1c1a" stroke="#1c1c1a" stroke-width="0.16" text-anchor="start" font-weight="normal" class="t" >SW1</text>
<text x="706.33" y="501.4" font-size="5.7" fill="#1c1c1a" stroke="#1c1c1a" stroke-width="0.16" text-anchor="start" font-weight="normal" class="t" >SW-SPDT</text>
<text x="679.33" y="484.93" font-size="5.7" fill="#1c1c1a" stroke="#1c1c1a" stroke-width="0.16" text-anchor="start" font-weight="normal" class="t" >PB15</text>
<text x="770.4" y="485.2" font-size="11.3" fill="#931f14" stroke="#931f14" stroke-width="0.1" text-anchor="start" font-weight="bold" class="cn" >跌倒</text>
<text x="770.4" y="499.6" font-size="11.3" fill="#931f14" stroke="#931f14" stroke-width="0.1" text-anchor="start" font-weight="bold" class="cn" >站立</text>
<text x="685.0" y="527.2" font-size="11.3" fill="#931f14" stroke="#931f14" stroke-width="0.1" text-anchor="start" font-weight="bold" class="cn" >老人状态监测</text>
</g>
<g class="wm" fill="#17eecb" stroke="#17eecb" stroke-linejoin="round" stroke-linecap="round" font-size="100" font-weight="200">
<text transform="translate(65.26,73.96) scale(0.4922,0.5580)" stroke-width="3.09" vector-effect="non-scaling-stroke">C</text>
<text transform="translate(96.38,75.58) scale(0.6905,0.5772)" stroke-width="2.20" vector-effect="non-scaling-stroke">U</text>
<text transform="translate(143.06,75.56) scale(0.5607,0.5296)" stroke-width="2.78" vector-effect="non-scaling-stroke">c</text>
<text transform="translate(176.55,75.70) scale(0.4454,0.6015)" stroke-width="4.00" vector-effect="non-scaling-stroke">l</text>
<text transform="translate(191.37,76.91) scale(0.4916,0.5643)" stroke-width="3.09" vector-effect="non-scaling-stroke">u</text>
<text transform="translate(220.03,76.34) scale(0.5934,0.5926)" stroke-width="2.64" vector-effect="non-scaling-stroke">b</text>
</g>
</g>
</svg>
<div style="position:absolute;left:13.2px;top:29.6px;width:51.80px;height:49.00px;transform-origin:0 0;transform:matrix3d(0.602317,0.000000,0.000000,0.000000,-0.191837,0.602317,0.000000,-0.008116,0.000000,0.000000,1.000000,0.000000,9.400000,0.000000,0.000000,1.000000);filter:blur(0.35px)">
<svg width="51.80" height="49.00" style="overflow:visible;display:block"><text class="wm" transform="translate(-13.05,47.55) scale(0.9030,0.6324)" font-size="100" font-weight="200" fill="#17eecb" stroke="#17eecb" stroke-width="3.78" stroke-linejoin="round">M</text></svg>
</div>
</body></html>
